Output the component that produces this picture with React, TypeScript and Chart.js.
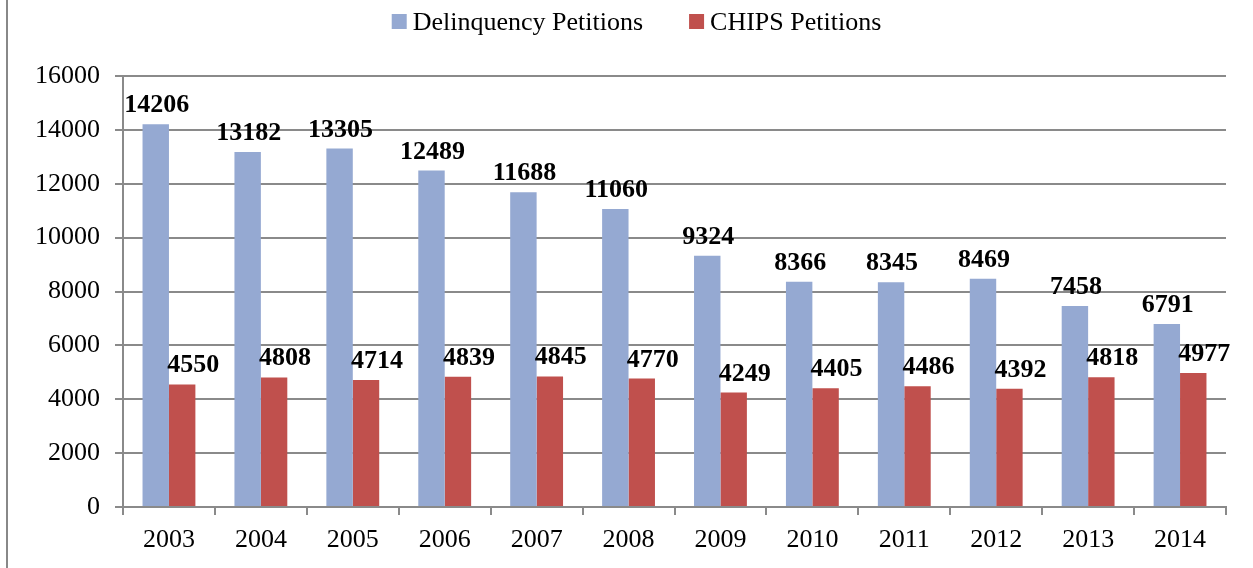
import React, { useEffect, useRef } from "react";
import { Chart, registerables } from "chart.js";

Chart.register(...registerables);

const years = ["2003", "2004", "2005", "2006", "2007", "2008", "2009", "2010", "2011", "2012", "2013", "2014"];
const delinquencyPetitions = [14206, 13182, 13305, 12489, 11688, 11060, 9324, 8366, 8345, 8469, 7458, 6791];
const chipsPetitions = [4550, 4808, 4714, 4839, 4845, 4770, 4249, 4405, 4486, 4392, 4818, 4977];
const seriesNames = ["Delinquency Petitions", "CHIPS Petitions"];
const yMin = 0;
const yMax = 16000;
const yStep = 2000;

const BLUE = "#95A9D2";
const RED = "#C0504D";
const GRID = "#8a8a8a";
const FONT = "'Liberation Serif', serif";

const labelDx = [1, 11];
const labelGap = 12;

const dataLabelsPlugin = {
  id: "dataLabels",
  afterDatasetsDraw(chart: any) {
    const ctx = chart.ctx;
    ctx.save();
    ctx.font = `bold 26px ${FONT}`;
    ctx.fillStyle = "#000";
    ctx.textAlign = "center";
    ctx.textBaseline = "alphabetic";
    chart.data.datasets.forEach((ds: any, di: number) => {
      const meta = chart.getDatasetMeta(di);
      meta.data.forEach((bar: any, i: number) => {
        ctx.fillText(String(ds.data[i]), bar.x + labelDx[di], bar.y - labelGap);
      });
    });
    ctx.restore();
  },
};

const legendPlugin = {
  id: "customLegend",
  afterDraw(chart: any) {
    const ctx = chart.ctx;
    ctx.save();
    ctx.font = `26px ${FONT}`;
    const box = 15;
    const boxGap = 6;
    const itemGap = 46;
    const colors = [BLUE, RED];
    const widths = seriesNames.map((n) => ctx.measureText(n).width);
    const total = widths.reduce((a, w) => a + box + boxGap + w, 0) + itemGap * (seriesNames.length - 1);
    let x = 636.5 - total / 2;
    const baseline = 30;
    seriesNames.forEach((n, i) => {
      ctx.fillStyle = colors[i];
      ctx.fillRect(x, 14, box, box);
      x += box + boxGap;
      ctx.fillStyle = "#000";
      ctx.textAlign = "left";
      ctx.textBaseline = "alphabetic";
      ctx.fillText(n, x, baseline);
      x += widths[i] + itemGap;
    });
    ctx.restore();
  },
};

const framePlugin = {
  id: "frame",
  beforeDraw(chart: any) {
    const ctx = chart.ctx;
    ctx.save();
    ctx.fillStyle = "#ffffff";
    ctx.fillRect(0, 0, chart.width, chart.height);
    ctx.fillStyle = "#888888";
    ctx.fillRect(6, 0, 2, chart.height);
    ctx.restore();
  },
};

export default function App() {
  const ref = useRef<HTMLCanvasElement | null>(null);

  useEffect(() => {
    if (!ref.current) return;
    const chart = new Chart(ref.current, {
      type: "bar",
      data: {
        labels: years,
        datasets: [
          {
            label: seriesNames[0],
            data: delinquencyPetitions,
            backgroundColor: BLUE,
            barPercentage: 1,
            categoryPercentage: 0.575,
          },
          {
            label: seriesNames[1],
            data: chipsPetitions,
            backgroundColor: RED,
            barPercentage: 1,
            categoryPercentage: 0.575,
          },
        ],
      },
      options: {
        responsive: false,
        animation: false,
        layout: { padding: { left: 0, top: 76, right: 27, bottom: 0 } },
        plugins: {
          legend: { display: false },
          tooltip: { enabled: false },
        },
        scales: {
          x: {
            afterFit(scale: any) {
              scale.height = 61;
            },
            grid: {
              display: true,
              drawOnChartArea: false,
              drawTicks: true,
              tickLength: 8,
              color: GRID,
              lineWidth: 2,
              offset: true,
            },
            border: { display: true, color: GRID, width: 2 },
            ticks: {
              color: "#000",
              padding: 10,
              font: { family: FONT, size: 26 },
            },
          },
          y: {
            min: yMin,
            max: yMax,
            afterFit(scale: any) {
              scale.width = 123;
            },
            grid: {
              color: GRID,
              lineWidth: 2,
              tickLength: 8,
              drawTicks: true,
            },
            border: { display: true, color: GRID, width: 2 },
            ticks: {
              stepSize: yStep,
              color: "#000",
              padding: 15,
              font: { family: FONT, size: 26 },
              callback: (v: any) => String(v),
            },
          },
        },
      },
      plugins: [framePlugin, dataLabelsPlugin, legendPlugin],
    });
    return () => chart.destroy();
  }, []);

  return (
    <div style={{ position: "absolute", left: 0, top: 0, width: 1253, height: 568 }}>
      <canvas ref={ref} width={1253} height={568} style={{ display: "block" }} />
    </div>
  );
}
